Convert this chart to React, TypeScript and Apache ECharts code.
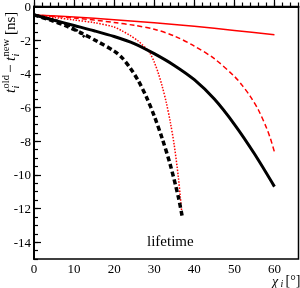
import React, { useEffect, useRef } from "react";
import * as echarts from "echarts";

const redSolidX = [0, 10, 20, 30, 40, 50, 60];
const redSolidY = [-0.5, -0.62, -0.78, -0.97, -1.18, -1.42, -1.68];

const redDashedX = [0, 10, 20, 25, 30, 35, 40, 45, 50, 52, 54, 56, 58, 59, 60];
const redDashedY = [-0.5, -0.68, -0.95, -1.12, -1.35, -1.75, -2.35, -3.1, -4.15, -4.7, -5.35, -6.15, -7.2, -7.85, -8.65];

const redDottedX = [0, 5, 10, 15, 20, 22, 24, 26, 27, 28, 29, 30, 31, 32, 33, 34, 35, 36, 36.5, 36.9];
const redDottedY = [-0.5, -0.65, -0.8, -0.96, -1.22, -1.45, -1.72, -2.05, -2.27, -2.5, -2.8, -3.3, -3.95, -4.75, -5.7, -6.85, -8.25, -10.1, -11.3, -12.3];

const blackSolidX = [0, 5, 10, 15, 20, 25, 30, 35, 40, 45, 50, 55, 60];
const blackSolidY = [-0.5, -0.82, -1.13, -1.44, -1.78, -2.2, -2.8, -3.5, -4.35, -5.5, -7.0, -8.75, -10.7];

const blackDashedX = [0, 4, 8, 12, 16, 20, 22, 24, 26, 28, 30, 32, 34, 36, 37];
const blackDashedY = [-0.5, -0.8, -1.15, -1.6, -2.1, -2.65, -3.05, -3.65, -4.4, -5.35, -6.5, -7.85, -9.4, -11.3, -12.5];

const blackDottedX = [0, 4, 8, 10, 12, 13];
const blackDottedY = [-0.5, -0.72, -1.05, -1.3, -1.68, -1.9];

const yTickValues = [0, -2, -4, -6, -8, -10, -12, -14];
const xTickValues = [0, 10, 20, 30, 40, 50, 60];
const annotation = "lifetime";

const SERIF = '"Liberation Serif", "DejaVu Serif", serif';

const pairs = (xs: number[], ys: number[]) => xs.map((x, i) => [x, ys[i]]);

export default function App() {
  const ref = useRef<HTMLDivElement>(null);
  useEffect(() => {
    if (!ref.current) return;
    const chart = echarts.init(ref.current, undefined, { renderer: "svg" });
    const tick = { inside: true, lineStyle: { color: "#000", width: 1.2 } };
    const lineSeries = (name: string, xs: number[], ys: number[], color: string, width: number, type: any) => ({
      name,
      type: "line",
      data: pairs(xs, ys),
      smooth: 0.3,
      showSymbol: false,
      symbol: "none",
      lineStyle: { color, width, type },
      z: 3,
    });
    const main = 15;
    const sc = 10.5;
    const it = (s: number) => `italic ${s}px ${SERIF}`;
    const rm = (s: number) => `${s}px ${SERIF}`;
    const t = (text: string, x: number, y: number, font: string, lh?: number) => ({
      type: "text",
      x,
      y,
      style: {
        text,
        font,
        fill: "#000",
        textAlign: "left",
        textVerticalAlign: "bottom",
        ...(lh ? { lineHeight: lh } : {}),
      },
    });
    chart.setOption({
      animation: false,
      grid: { left: 34, right: 1.5, top: 3.5, bottom: 29, show: true, borderColor: "#000", borderWidth: 1.5 },
      xAxis: [
        {
          type: "value",
          min: 0,
          max: 66,
          interval: 10,
          position: "bottom",
          axisLine: { lineStyle: { color: "#000", width: 2 } },
          axisTick: { ...tick, length: 7 },
          axisLabel: {
            color: "#000",
            fontFamily: SERIF,
            fontSize: 13,
            lineHeight: 12,
            margin: 3,
            showMaxLabel: false,
            formatter: (v: number) => (xTickValues.includes(v) ? String(v) : ""),
          },
          splitLine: { show: false },
        },
        {
          type: "value",
          min: 0,
          max: 66,
          interval: 2,
          position: "bottom",
          axisLine: { show: false },
          axisTick: { ...tick, length: 4 },
          axisLabel: { show: false },
          splitLine: { show: false },
        },
      ],
      yAxis: [
        {
          type: "value",
          min: -15,
          max: 0,
          position: "left",
          axisLine: { lineStyle: { color: "#000", width: 2 } },
          axisTick: { ...tick, length: 7, customValues: yTickValues },
          axisLabel: { color: "#000", fontFamily: SERIF, fontSize: 13, margin: 3, customValues: yTickValues },
          splitLine: { show: false },
        },
        {
          type: "value",
          min: -15,
          max: 0,
          interval: 0.5,
          position: "left",
          axisLine: { show: false },
          axisTick: { ...tick, length: 4 },
          axisLabel: { show: false },
          splitLine: { show: false },
        },
      ],
      series: [
        lineSeries("red solid", redSolidX, redSolidY, "#ff0000", 1.5, "solid"),
        lineSeries("red dashed", redDashedX, redDashedY, "#ff0000", 1.5, [5, 3]),
        lineSeries("red dotted", redDottedX, redDottedY, "#ff0000", 1.5, [1.5, 1.5]),
        lineSeries("black solid", blackSolidX, blackSolidY, "#000", 3, "solid"),
        lineSeries("black dashed", blackDashedX, blackDashedY, "#000", 3.5, [5, 3]),
        lineSeries("black dotted", blackDottedX, blackDottedY, "#000", 2.5, [2, 2.5]),
      ],
      graphic: [
        {
          type: "text",
          left: 147,
          top: 233,
          style: { text: annotation, font: rm(15), fill: "#000" },
        },
        {
          type: "group",
          x: 17,
          y: 93,
          rotation: Math.PI / 2,
          children: [
            t("t", 0, 0, it(main)),
            t("i", 4.5, 4, it(sc)),
            t("old", 4.5, -6, rm(sc)),
            t("\u2212", 20, 0, rm(main)),
            t("t", 32, 0, it(main)),
            t("i", 36.5, 4, it(sc)),
            t("new", 36.5, -6, rm(sc)),
            t("[ns]", 58, 0, rm(main)),
          ],
        },
        t("\u03c7", 272, 287.5, it(14), 12),
        t("i", 280.5, 288, it(10), 9),
        t("[\u00b0]", 285.5, 286, rm(14), 12),
      ],
    });
    return () => chart.dispose();
  }, []);
  return <div ref={ref} style={{ position: "fixed", left: 0, top: 0, width: 300, height: 288 }} />;
}
